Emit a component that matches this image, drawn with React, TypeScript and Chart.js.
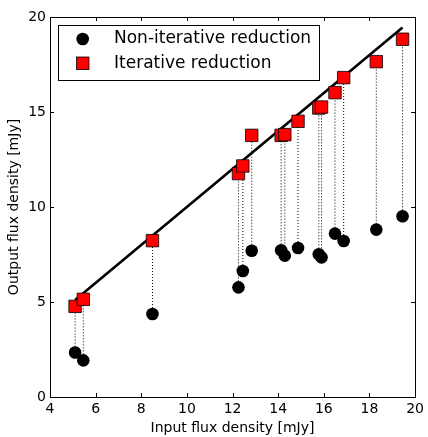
import React, { useEffect, useRef } from "react";
import { Chart, registerables } from "chart.js";

Chart.register(...registerables);

const inputFlux = [5.10, 5.46, 8.49, 12.26, 12.45, 12.84, 14.13, 14.29, 14.87, 15.78, 15.90, 16.49, 16.87, 18.30, 19.45];
const nonIterativeOut = [2.34, 1.93, 4.37, 5.77, 6.63, 7.70, 7.72, 7.44, 7.84, 7.51, 7.35, 8.60, 8.21, 8.81, 9.51];
const iterativeOut = [4.77, 5.14, 8.23, 11.76, 12.16, 13.77, 13.77, 13.81, 14.51, 15.21, 15.26, 16.02, 16.81, 17.65, 18.83];
const oneToOneRange = [5.1, 19.45];
const xTickValues = [4, 6, 8, 10, 12, 14, 16, 18, 20];
const yTickValues = [0, 5, 10, 15, 20];
const seriesLabels = ["Non-iterative reduction", "Iterative reduction"];
const xTitle = "Input flux density [mJy]";
const yTitle = "Output flux density [mJy]";

const FONT = "'DejaVu Sans', sans-serif";

const framePlugin = {
  id: "frameTicks",
  afterDatasetsDraw(chart: any) {
    const { ctx, chartArea, scales } = chart;
    const { left, right, top, bottom } = chartArea;
    ctx.save();
    ctx.strokeStyle = "#000";
    ctx.lineWidth = 1;
    ctx.beginPath();
    const L = 4;
    xTickValues.forEach((v) => {
      const px = Math.round(scales.x.getPixelForValue(v)) + 0.5;
      ctx.moveTo(px, bottom);
      ctx.lineTo(px, bottom - L);
      ctx.moveTo(px, top);
      ctx.lineTo(px, top + L);
    });
    yTickValues.forEach((v) => {
      const py = Math.round(scales.y.getPixelForValue(v)) + 0.5;
      ctx.moveTo(left, py);
      ctx.lineTo(left + L, py);
      ctx.moveTo(right, py);
      ctx.lineTo(right - L, py);
    });
    ctx.stroke();
    ctx.strokeRect(Math.round(left) + 0.5, Math.round(top) + 0.5, Math.round(right - left), Math.round(bottom - top));

    // legend
    const bx = 58.5, by = 25.5, bw = 261, bh = 55;
    ctx.fillStyle = "#fff";
    ctx.fillRect(bx, by, bw, bh);
    ctx.strokeRect(bx, by, bw, bh);
    const ds0 = chart.data.datasets[0];
    const ds1 = chart.data.datasets[1];
    // circle
    ctx.fillStyle = ds1.backgroundColor;
    ctx.beginPath();
    ctx.arc(82.7, 39, 6.3, 0, Math.PI * 2);
    ctx.fill();
    // square
    ctx.fillStyle = ds0.backgroundColor;
    ctx.fillRect(76.5, 57, 12.5, 12.5);
    ctx.lineWidth = 0.8;
    ctx.strokeRect(76.5, 57, 12.5, 12.5);
    ctx.fillStyle = "#000";
    ctx.font = `17px ${FONT}`;
    ctx.textBaseline = "middle";
    ctx.textAlign = "left";
    ctx.fillText(ds1.label, 114, 39);
    ctx.fillText(ds0.label, 114, 63.5);
    ctx.restore();
  },
};

export default function App() {
  const ref = useRef<HTMLCanvasElement>(null);
  useEffect(() => {
    document.body.style.margin = "0";
    const connectors = inputFlux.map((x, i) => ({
      type: "line" as const,
      label: "",
      data: [
        { x, y: nonIterativeOut[i] },
        { x, y: iterativeOut[i] },
      ],
      showLine: true,
      borderColor: "#000",
      borderWidth: 1,
      borderDash: [1, 2],
      pointRadius: 0,
      order: 3,
    }));
    const chart = new Chart(ref.current!, {
      type: "scatter",
      data: {
        datasets: [
          {
            label: seriesLabels[1],
            data: inputFlux.map((x, i) => ({ x, y: iterativeOut[i] })),
            pointStyle: "rect",
            pointRadius: 8.8,
            backgroundColor: "#ff0000",
            borderColor: "#000",
            borderWidth: 0.8,
            order: 0,
          } as any,
          {
            label: seriesLabels[0],
            data: inputFlux.map((x, i) => ({ x, y: nonIterativeOut[i] })),
            pointStyle: "circle",
            pointRadius: 6.3,
            backgroundColor: "#000",
            borderColor: "#000",
            borderWidth: 0,
            order: 1,
          },
          {
            type: "line",
            label: "1:1",
            data: oneToOneRange.map((v) => ({ x: v, y: v })),
            showLine: true,
            borderColor: "#000",
            borderWidth: 2.6,
            pointRadius: 0,
            order: 2,
          },
          ...connectors,
        ] as any,
      },
      options: {
        animation: false,
        responsive: false,
        layout: { padding: { top: 17, right: 10, left: 0, bottom: 0 } },
        plugins: { legend: { display: false }, tooltip: { enabled: false } },
        scales: {
          x: {
            type: "linear",
            min: 4,
            max: 20,
            afterFit: (s: any) => {
              s.height = 40;
            },
            afterBuildTicks: (s: any) => {
              s.ticks = xTickValues.map((v) => ({ value: v }));
            },
            grid: { display: false, drawTicks: false },
            border: { display: false },
            ticks: { color: "#000", font: { family: FONT, size: 14 }, padding: 4, maxRotation: 0 },
            title: { display: true, text: xTitle, color: "#000", font: { family: FONT, size: 14 }, padding: { top: 0, bottom: 0 } },
          },
          y: {
            type: "linear",
            min: 0,
            max: 20,
            afterFit: (s: any) => {
              s.width = 50;
            },
            afterBuildTicks: (s: any) => {
              s.ticks = yTickValues.map((v) => ({ value: v }));
            },
            grid: { display: false, drawTicks: false },
            border: { display: false },
            ticks: { color: "#000", font: { family: FONT, size: 14 }, padding: 4 },
            title: { display: true, text: yTitle, color: "#000", font: { family: FONT, size: 14 }, padding: { top: 6, bottom: 0 } },
          },
        },
      },
      plugins: [framePlugin],
    });
    return () => chart.destroy();
  }, []);
  return <canvas ref={ref} width={428} height={437} style={{ display: "block" }} />;
}
